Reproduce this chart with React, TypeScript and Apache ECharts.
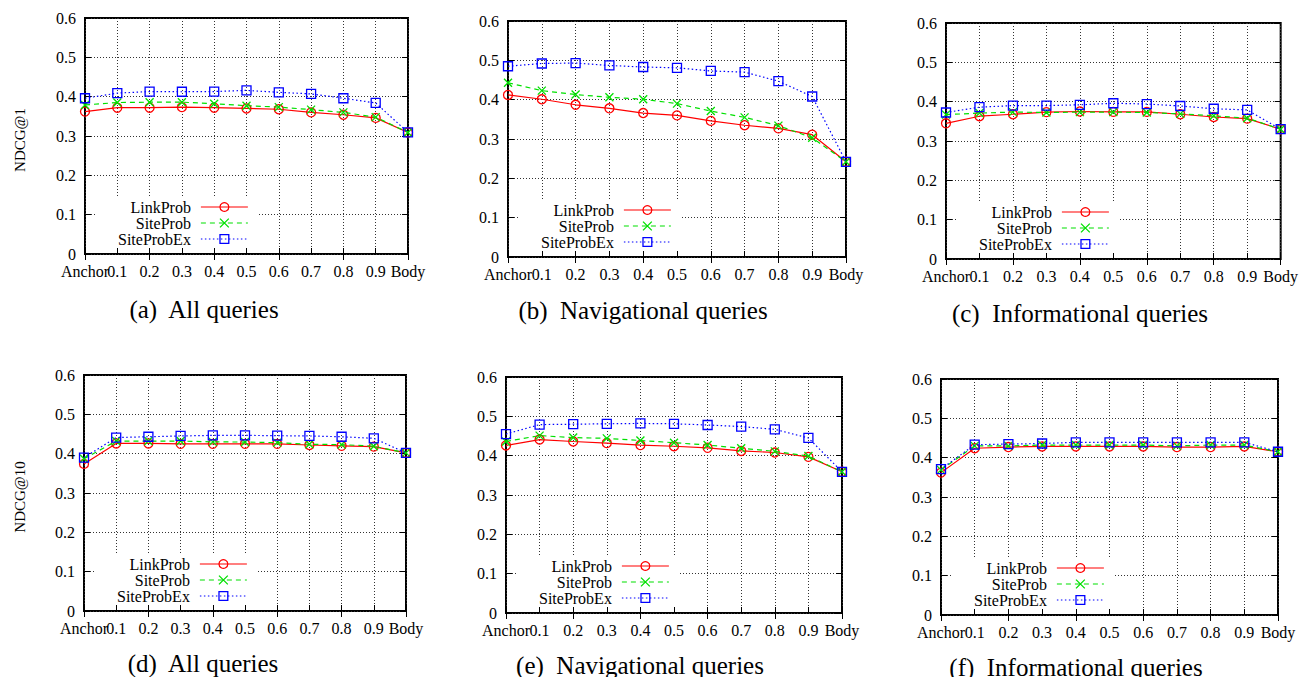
import React, { useEffect, useRef } from "react";
import * as echarts from "echarts";

const categories = ["Anchor", "0.1", "0.2", "0.3", "0.4", "0.5", "0.6", "0.7", "0.8", "0.9", "Body"];
const seriesNames = ["LinkProb", "SiteProb", "SiteProbEx"];
const yTicks = { min: 0, max: 0.6, interval: 0.1 };

// (a) NDCG@1 All queries
const aLink = [0.362, 0.372, 0.372, 0.3735, 0.372, 0.37, 0.368, 0.36, 0.354, 0.346, 0.309];
const aSite = [0.379, 0.385, 0.386, 0.386, 0.382, 0.377, 0.3735, 0.367, 0.36, 0.348, 0.309];
const aEx = [0.396, 0.409, 0.413, 0.4125, 0.413, 0.416, 0.411, 0.407, 0.396, 0.384, 0.309];
// (b) NDCG@1 Navigational queries
const bLink = [0.412, 0.401, 0.387, 0.378, 0.366, 0.36, 0.346, 0.335, 0.327, 0.311, 0.242];
const bSite = [0.443, 0.423, 0.413, 0.406, 0.401, 0.39, 0.371, 0.355, 0.334, 0.303, 0.242];
const bEx = [0.485, 0.492, 0.493, 0.487, 0.483, 0.481, 0.473, 0.47, 0.447, 0.408, 0.242];
// (c) NDCG@1 Informational queries
const cLink = [0.345, 0.363, 0.368, 0.3735, 0.375, 0.374, 0.374, 0.368, 0.361, 0.357, 0.33];
const cSite = [0.367, 0.371, 0.3735, 0.3725, 0.3735, 0.3735, 0.3725, 0.369, 0.364, 0.358, 0.33];
const cEx = [0.3725, 0.386, 0.39, 0.39, 0.392, 0.396, 0.394, 0.389, 0.382, 0.379, 0.33];
// (d) NDCG@10 All queries
const dLink = [0.374, 0.426, 0.426, 0.425, 0.425, 0.425, 0.425, 0.422, 0.42, 0.418, 0.402];
const dSite = [0.387, 0.432, 0.432, 0.432, 0.43, 0.4295, 0.428, 0.424, 0.423, 0.419, 0.402];
const dEx = [0.39, 0.441, 0.443, 0.445, 0.4465, 0.4465, 0.4457, 0.445, 0.443, 0.439, 0.402];
// (e) NDCG@10 Navigational queries
const eLink = [0.426, 0.441, 0.436, 0.432, 0.427, 0.424, 0.42, 0.412, 0.408, 0.397, 0.359];
const eSite = [0.436, 0.451, 0.446, 0.444, 0.4385, 0.433, 0.427, 0.419, 0.411, 0.399, 0.359];
const eEx = [0.455, 0.479, 0.48, 0.481, 0.482, 0.481, 0.478, 0.474, 0.467, 0.445, 0.359];
// (f) NDCG@10 Informational queries
const fLink = [0.362, 0.424, 0.427, 0.4285, 0.4285, 0.4285, 0.4285, 0.427, 0.427, 0.4285, 0.415];
const fSite = [0.369, 0.43, 0.43, 0.432, 0.432, 0.432, 0.432, 0.43, 0.432, 0.432, 0.415];
const fEx = [0.371, 0.433, 0.4345, 0.436, 0.439, 0.439, 0.439, 0.439, 0.439, 0.439, 0.415];

const captions = [
  "(a)  All queries",
  "(b)  Navigational queries",
  "(c)  Informational queries",
  "(d)  All queries",
  "(e)  Navigational queries",
  "(f)  Informational queries",
];
const yNames = ["NDCG@1", "", "", "NDCG@10", "", ""];
const panelData = [
  [aLink, aSite, aEx],
  [bLink, bSite, bEx],
  [cLink, cSite, cEx],
  [dLink, dSite, dEx],
  [eLink, eSite, eEx],
  [fLink, fSite, fEx],
];

// layout (pixels)
const grids = [
  { l: 85, t: 18, w: 323, h: 236 },
  { l: 508, t: 21, w: 338, h: 236 },
  { l: 946, t: 23, w: 337, h: 236 },
  { l: 84, t: 375, w: 322, h: 236 },
  { l: 506, t: 377, w: 336, h: 236 },
  { l: 941, t: 379, w: 337, h: 236 },
];
const captionPos = [
  [204, 309],
  [643, 310],
  [1080, 313],
  [203, 663],
  [640, 665],
  [1076, 667],
];

const FONT = "Liberation Serif";
const RED = "#ff0000";
const GREEN = "#00e000";
const BLUE = "#0000ff";
const CROSS = "path://M0,0L8,8M8,0L0,8";

const styles = [
  { color: RED, symbol: "circle", size: 9, type: "solid" as any },
  { color: GREEN, symbol: CROSS, size: 8, type: [5, 4] as any },
  { color: BLUE, symbol: "rect", size: 9, type: [1.5, 2.5] as any },
];

export default function App() {
  const ref = useRef<HTMLDivElement>(null);
  useEffect(() => {
    if (!ref.current) return;
    const chart = echarts.init(ref.current, null, { renderer: "svg" });
    const grid: any[] = [];
    const xAxis: any[] = [];
    const yAxis: any[] = [];
    const series: any[] = [];
    const legend: any[] = [];
    const graphic: any[] = [];
    const padL = 22, padT = 2, padR = 10, padB = 1;

    grids.forEach((g, i) => {
      grid.push({
        left: g.l, top: g.t, width: g.w, height: g.h,
        show: true, borderColor: "#000", borderWidth: 2, backgroundColor: "transparent",
      });
      const tick = { show: true, inside: true, length: 6, lineStyle: { color: "#000", width: 1 } };
      xAxis.push({
        type: "category", gridIndex: i, data: categories, boundaryGap: false, position: "bottom",
        axisLine: { show: false },
        axisTick: tick,
        axisLabel: { interval: 0, hideOverlap: false, color: "#000", fontFamily: FONT, fontSize: 16, margin: 9 },
        splitLine: { show: true, interval: 0, lineStyle: { color: "#333", type: [1, 2], width: 1 } },
      });
      xAxis.push({
        type: "category", gridIndex: i, data: categories, boundaryGap: false, position: "top",
        axisLine: { show: false }, axisTick: tick, axisLabel: { show: false }, splitLine: { show: false },
      });
      yAxis.push({
        type: "value", gridIndex: i, position: "left", ...yTicks,
        axisLine: { show: false },
        axisTick: tick,
        axisLabel: { color: "#000", fontFamily: FONT, fontSize: 16, margin: 9 },
        splitLine: { show: true, lineStyle: { color: "#333", type: [1, 2], width: 1 } },
      });
      yAxis.push({
        type: "value", gridIndex: i, position: "right", ...yTicks,
        axisLine: { show: false }, axisTick: tick, axisLabel: { show: false }, splitLine: { show: false },
      });

      panelData[i].forEach((vals, k) => {
        const s = styles[k];
        series.push({
          type: "line", name: seriesNames[k], data: vals,
          xAxisIndex: 2 * i, yAxisIndex: 2 * i,
          symbol: s.symbol, symbolSize: s.size, showAllSymbol: true,
          lineStyle: { color: s.color, width: 1.2, type: s.type },
          itemStyle: { color: "rgba(0,0,0,0)", borderColor: s.color, borderWidth: 1.3 },
          emphasis: { disabled: true },
          z: 3 + k,
        });
      });

      legend.push({
        data: seriesNames,
        orient: "vertical", align: "right",
        left: g.l + 33 - padL, top: g.t + 181 - padT,
        padding: [padT, padR, padB, padL],
        backgroundColor: "#fff",
        itemWidth: 47, itemHeight: 11, itemGap: 0,
        selectedMode: false,
        textStyle: { fontFamily: FONT, fontSize: 16, color: "#000", padding: [0, 5, 0, 0] },
        itemStyle: { borderWidth: 1.3 },
        lineStyle: { width: 1.2 },
      });

      const [cx, cy] = captionPos[i];
      graphic.push({
        type: "text", x: cx, y: cy,
        style: { text: captions[i], fontFamily: FONT, fontSize: 25, fill: "#000", align: "center", verticalAlign: "middle" },
      });
      if (yNames[i]) {
        graphic.push({
          type: "text", x: 20, y: g.t + g.h / 2 + 4, rotation: Math.PI / 2,
          style: { text: yNames[i], fontFamily: FONT, fontSize: 15, fill: "#000", align: "center", verticalAlign: "middle" },
        });
      }
    });

    chart.setOption({
      animation: false,
      backgroundColor: "#fff",
      grid, xAxis, yAxis, series, legend, graphic,
    });
    return () => chart.dispose();
  }, []);
  return (
    <div
      ref={ref}
      style={{ position: "fixed", left: 0, top: 0, width: 1301, height: 677, background: "#fff" }}
    />
  );
}
